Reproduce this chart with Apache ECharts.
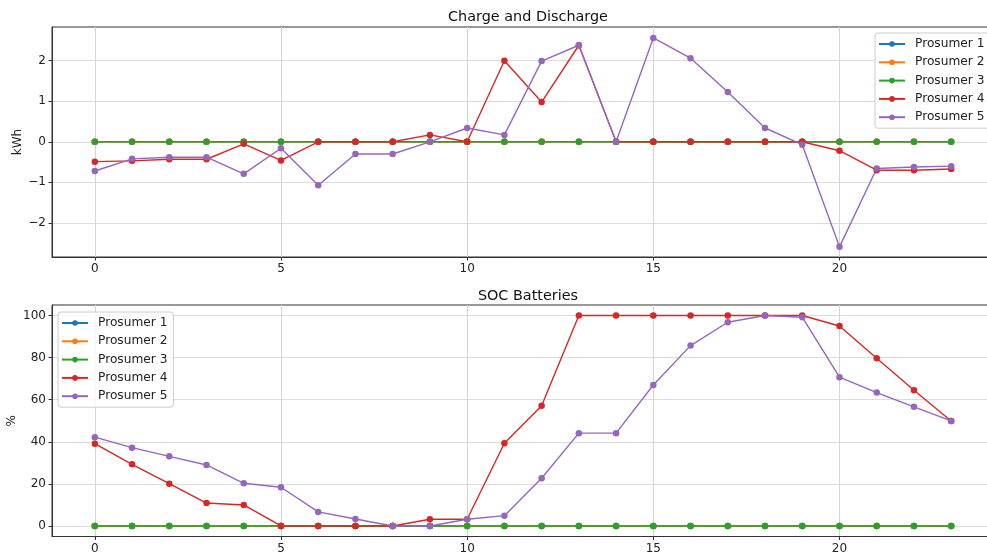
<!DOCTYPE html>
<html>
<head>
<meta charset="utf-8">
<script src="https://cdn.jsdelivr.net/npm/echarts@6/dist/echarts.min.js"></script>
<style>html,body{margin:0;padding:0;background:#fff}#c{width:987px;height:558px}</style>
</head>
<body>
<div id="c"></div>
<script>
const hours = [0,1,2,3,4,5,6,7,8,9,10,11,12,13,14,15,16,17,18,19,20,21,22,23];
const names = ['Prosumer 1','Prosumer 2','Prosumer 3','Prosumer 4','Prosumer 5'];
const colors = ['#1f77b4','#ff7f0e','#2ca02c','#d62728','#9467bd'];

const chargeP1 = [0,0,0,0,0,0,0,0,0,0,0,0,0,0,0,0,0,0,0,0,0,0,0,0];
const chargeP2 = [0,0,0,0,0,0,0,0,0,0,0,0,0,0,0,0,0,0,0,0,0,0,0,0];
const chargeP3 = [0,0,0,0,0,0,0,0,0,0,0,0,0,0,0,0,0,0,0,0,0,0,0,0];
const chargeP4 = [-0.49,-0.47,-0.43,-0.43,-0.05,-0.46,0,0,0,0.17,0,2.0,0.98,2.38,0,0,0,0,0,0,-0.22,-0.70,-0.70,-0.67];
const chargeP5 = [-0.72,-0.42,-0.38,-0.38,-0.79,-0.16,-1.07,-0.30,-0.30,0,0.34,0.17,1.99,2.38,0,2.56,2.06,1.23,0.34,-0.07,-2.59,-0.66,-0.62,-0.60];

const socP1 = [0,0,0,0,0,0,0,0,0,0,0,0,0,0,0,0,0,0,0,0,0,0,0,0];
const socP2 = [0,0,0,0,0,0,0,0,0,0,0,0,0,0,0,0,0,0,0,0,0,0,0,0];
const socP3 = [0,0,0,0,0,0,0,0,0,0,0,0,0,0,0,0,0,0,0,0,0,0,0,0];
const socP4 = [39.1,29.3,20.1,10.9,10.0,0,0,0,0,3.2,3.2,39.3,57.1,100,100,100,100,100,100,100,95.0,79.7,64.5,49.9];
const socP5 = [42.2,37.2,33.1,29.0,20.3,18.4,6.7,3.3,0,0,3.2,4.9,22.7,44.1,44.1,67.0,85.7,96.8,100,99.2,70.7,63.4,56.6,49.9];

const xTicks = [0,5,10,15,20];
const yTicksTop = [-2,-1,0,1,2];
const yTicksBottom = [0,20,40,60,80,100];

const chargeData = [chargeP1,chargeP2,chargeP3,chargeP4,chargeP5];
const socData = [socP1,socP2,socP3,socP4,socP5];

const FONT = 'DejaVu Sans';
const fmt = v => String(v).replace('-', '\u2212');

function xAxis(gi){
  return {
    type:'value', gridIndex:gi, min:-1.15, max:24.15,
    axisLine:{show:true, onZero:false, lineStyle:{color:'#333', width:1}},
    axisTick:{show:true, length:3.5, lineStyle:{color:'#333'}, customValues:xTicks},
    axisLabel:{show:true, color:'#222', fontFamily:FONT, fontSize:12, margin:6, customValues:xTicks, formatter:fmt},
    splitLine:{show:true, lineStyle:{color:'#d4d4d4', width:1}}
  };
}
function yAxis(gi, min, max, ticks, name, gap){
  return {
    type:'value', gridIndex:gi, min:min, max:max,
    name:name, nameLocation:'middle', nameGap:gap, nameRotate:90, nameMoveOverlap:false,
    nameTextStyle:{color:'#222', fontFamily:FONT, fontSize:12},
    axisLine:{show:true, onZero:false, lineStyle:{color:'#333', width:1}},
    axisTick:{show:true, length:3.5, lineStyle:{color:'#333'}, customValues:ticks},
    axisLabel:{show:true, color:'#222', fontFamily:FONT, fontSize:12, margin:6, customValues:ticks, formatter:fmt},
    splitLine:{show:true, lineStyle:{color:'#dcdcdc', width:1}}
  };
}

const series = [];
[chargeData, socData].forEach((set, gi) => {
  set.forEach((arr, i) => {
    series.push({
      name:names[i], type:'line', xAxisIndex:gi, yAxisIndex:gi,
      data: hours.map((h,k)=>[h, arr[k]]),
      symbol:'circle', symbolSize:6.5, showSymbol:true,
      lineStyle:{color:colors[i], width:1.4},
      itemStyle:{color:colors[i]},
      animation:false
    });
  });
});

function legend(left, top){
  return {
    data:names, orient:'vertical', left:left, top:top,
    itemWidth:26, itemHeight:7, itemGap:4.3,
    padding:[4,6,4,3],
    backgroundColor:'rgba(255,255,255,0.8)', borderColor:'#cccccc', borderWidth:1, borderRadius:3,
    textStyle:{fontFamily:FONT, fontSize:12.2, color:'#222', lineHeight:14, padding:[0,0,0,5]},
    selectedMode:false
  };
}

const chart = echarts.init(document.getElementById('c'), null, {renderer:'canvas'});
chart.setOption({
  animation:false,
  backgroundColor:'#fff',
  title:[
    {text:'Charge and Discharge', left:523, top:5, textAlign:'center', textStyle:{fontFamily:FONT, fontSize:14.4, fontWeight:'normal', color:'#111'}},
    {text:'SOC Batteries', left:523, top:284, textAlign:'center', textStyle:{fontFamily:FONT, fontSize:14.4, fontWeight:'normal', color:'#111'}}
  ],
  grid:[
    {left:52, top:27, right:-7, height:230, show:true, borderColor:'#333', borderWidth:1, backgroundColor:'transparent', containLabel:false, outerBoundsMode:'none'},
    {left:52, top:305, right:-7, height:231.5, show:true, borderColor:'#333', borderWidth:1, backgroundColor:'transparent', containLabel:false, outerBoundsMode:'none'}
  ],
  xAxis:[xAxis(0), xAxis(1)],
  yAxis:[
    yAxis(0, -2.84, 2.83, yTicksTop, 'kWh', 28),
    yAxis(1, -5, 105, yTicksBottom, '%', 34)
  ],
  legend:[legend(875, 33), legend(58, 312)],
  series:series
});
</script>
</body>
</html>
